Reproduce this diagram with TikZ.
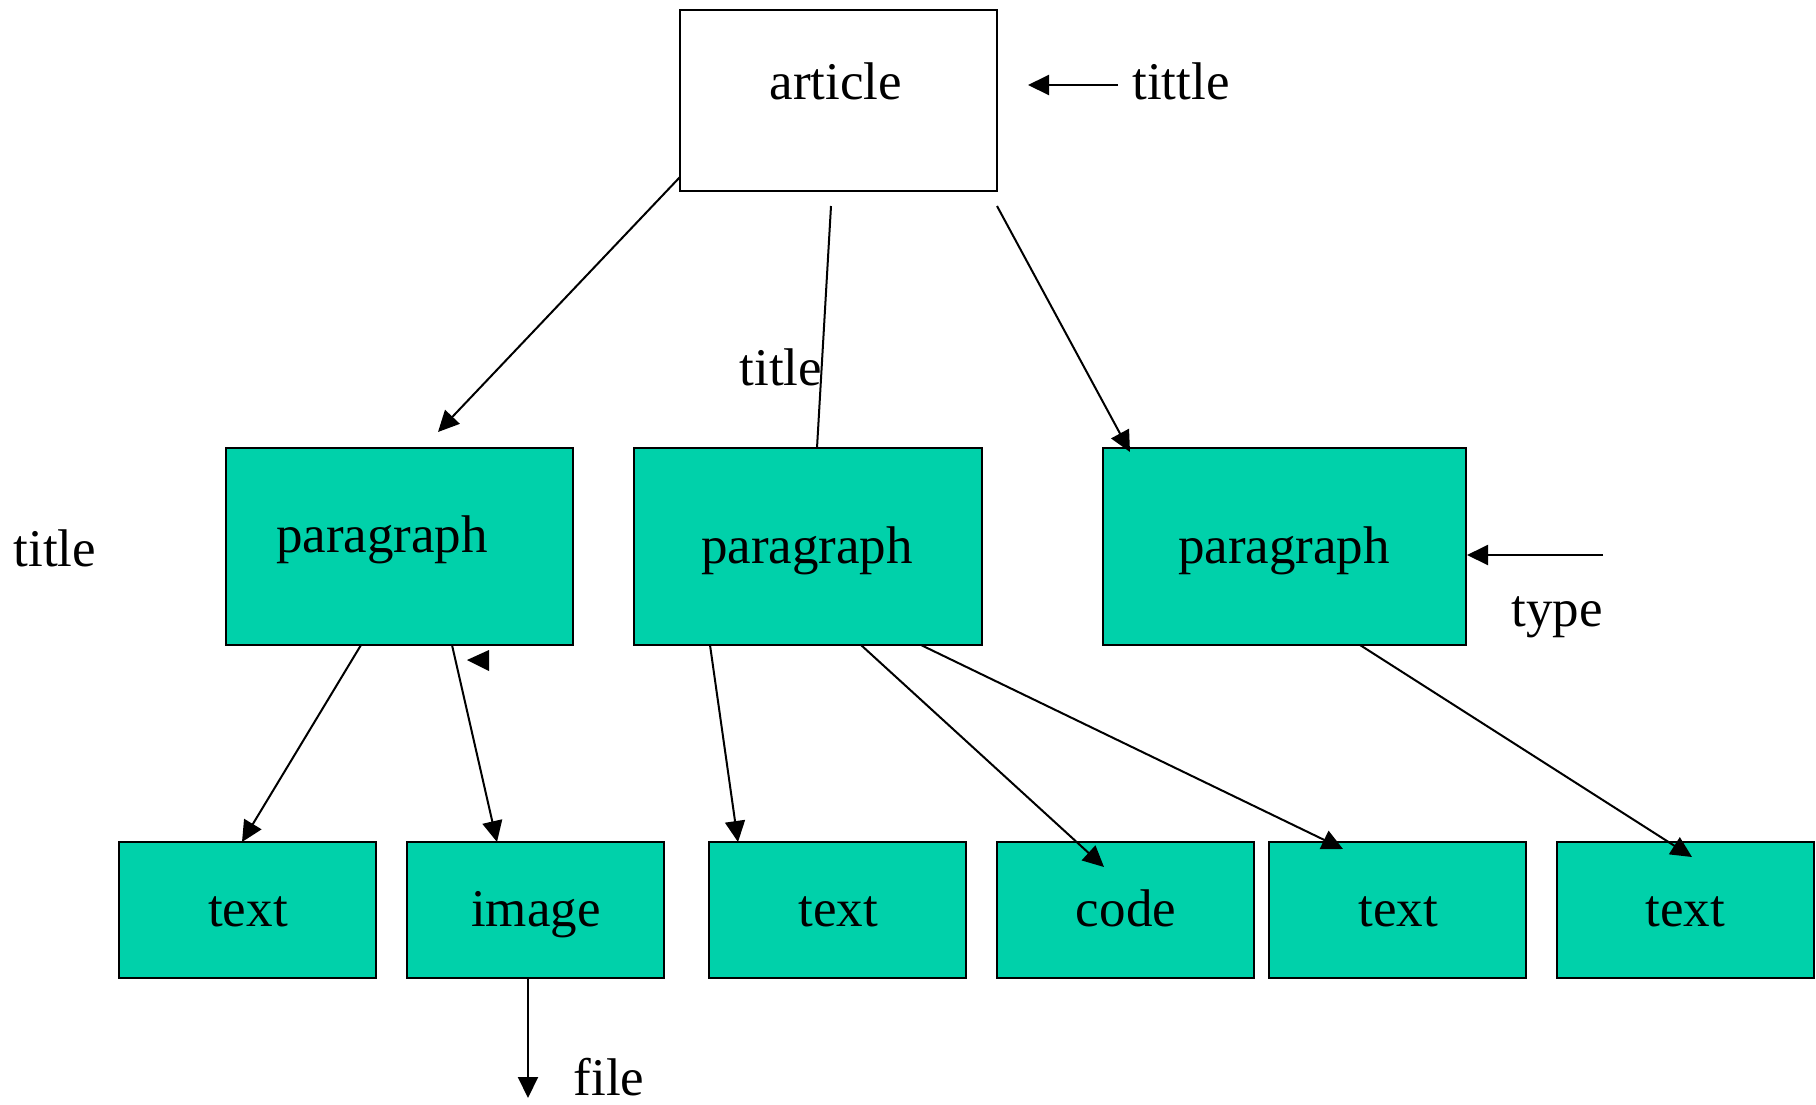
\documentclass[tikz,border=0pt]{standalone}
\usepackage{fontspec}
\setmainfont{Liberation Serif}
\usetikzlibrary{arrows.meta}
\definecolor{boxgreen}{RGB}{0,209,170}
\tikzset{
  box/.style={draw=black, line width=1pt, fill=boxgreen, inner sep=0pt, minimum height=#1},
  box/.default=68pt,
  lbl/.style={font=\fontsize{26.5pt}{30pt}\selectfont, anchor=base, inner sep=0pt},
  conn/.style={line width=1pt},
  arr/.style={conn, -{Triangle[length=10.5pt,width=10pt]}},
}
\begin{document}
\begin{tikzpicture}[x=0.5pt,y=-0.5pt]
\useasboundingbox (0,0) rectangle (1816,1104);
% boxes
\node[draw=black, line width=1pt, fill=white, minimum width=158.5pt, minimum height=90.5pt] (art) at (838.5,100.5) {};
\node[box=98.5pt, minimum width=173.5pt] (p1) at (399.5,546.5) {};
\node[box=98.5pt, minimum width=174pt] (p2) at (808,546.5) {};
\node[box=98.5pt, minimum width=181.5pt] (p3) at (1284.5,546.5) {};
\node[box, minimum width=128.5pt] (t1) at (247.5,910) {};
\node[box, minimum width=128.5pt] (img) at (535.5,910) {};
\node[box, minimum width=128.5pt] (t2) at (837.5,910) {};
\node[box, minimum width=128.5pt] (cd) at (1125,910) {};
\node[box, minimum width=128.5pt] (t3) at (1397.5,910) {};
\node[box, minimum width=128.5pt] (t4) at (1685.5,910) {};
% texts
\node[lbl] (artT) at (836,99) {article};
\node[lbl] (p1T) at (382,552) {paragraph};
\node[lbl] (p2T) at (807,563) {paragraph};
\node[lbl] (p3T) at (1284,563) {paragraph};
\node[lbl] (t1T) at (248,926) {text};
\node[lbl] (imgT) at (536,926) {image};
\node[lbl] (t2T) at (838,926) {text};
\node[lbl] (cdT) at (1126,926) {code};
\node[lbl] (t3T) at (1398,926) {text};
\node[lbl] (t4T) at (1685,926) {text};
\node[lbl] (tittle) at (1181,99) {tittle};
\node[lbl] (titleL) at (55,566) {title};
\node[lbl] (titleM) at (781,385) {title};
\node[lbl] (type) at (1557,626) {type};
\node[lbl] (file) at (609,1095) {file};
% connector end points
\coordinate (aL) at (680,177);
\coordinate (p1in) at (438,432);
\coordinate (aM) at (831,206);
\coordinate (p2top) at (817,448);
\coordinate (aR) at (997,206);
\coordinate (p3in) at (1130,452);
\coordinate (p1a) at (361,645);
\coordinate (t1in) at (242,842);
\coordinate (p1b) at (452,645);
\coordinate (imgin) at (497,842);
\coordinate (p2a) at (710,645);
\coordinate (t2in) at (738,842);
\coordinate (p2b) at (861,645);
\coordinate (cdin) at (1104,867);
\coordinate (p2c) at (921,645);
\coordinate (t3in) at (1343,849);
\coordinate (p3a) at (1360,645);
\coordinate (t4in) at (1692,857);
\coordinate (tittleS) at (1118,85);
\coordinate (tittleE) at (1028,85);
\coordinate (typeS) at (1603,555);
\coordinate (imgB) at (528,978);
\coordinate (fileE) at (528,1098);
% connectors
\draw[arr] (aL) -- (p1in);
\draw[conn] (aM) -- (p2top);
\draw[arr] (aR) -- (p3in);
\draw[arr] (p1a) -- (t1in);
\draw[arr] (p1b) -- (imgin);
\draw[arr] (p2a) -- (t2in);
\draw[arr] (p2b) -- (cdin);
\draw[arr] (p2c) -- (t3in);
\draw[arr] (p3a) -- (t4in);
\draw[arr] (tittleS) -- (tittleE);
\draw[arr] (typeS) -- (p3.east |- typeS);
\draw[arr] (imgB) -- (fileE);
% lone arrowhead
\fill (467,660) -- (489,650) -- (489,671) -- cycle;
\end{tikzpicture}
\end{document}
